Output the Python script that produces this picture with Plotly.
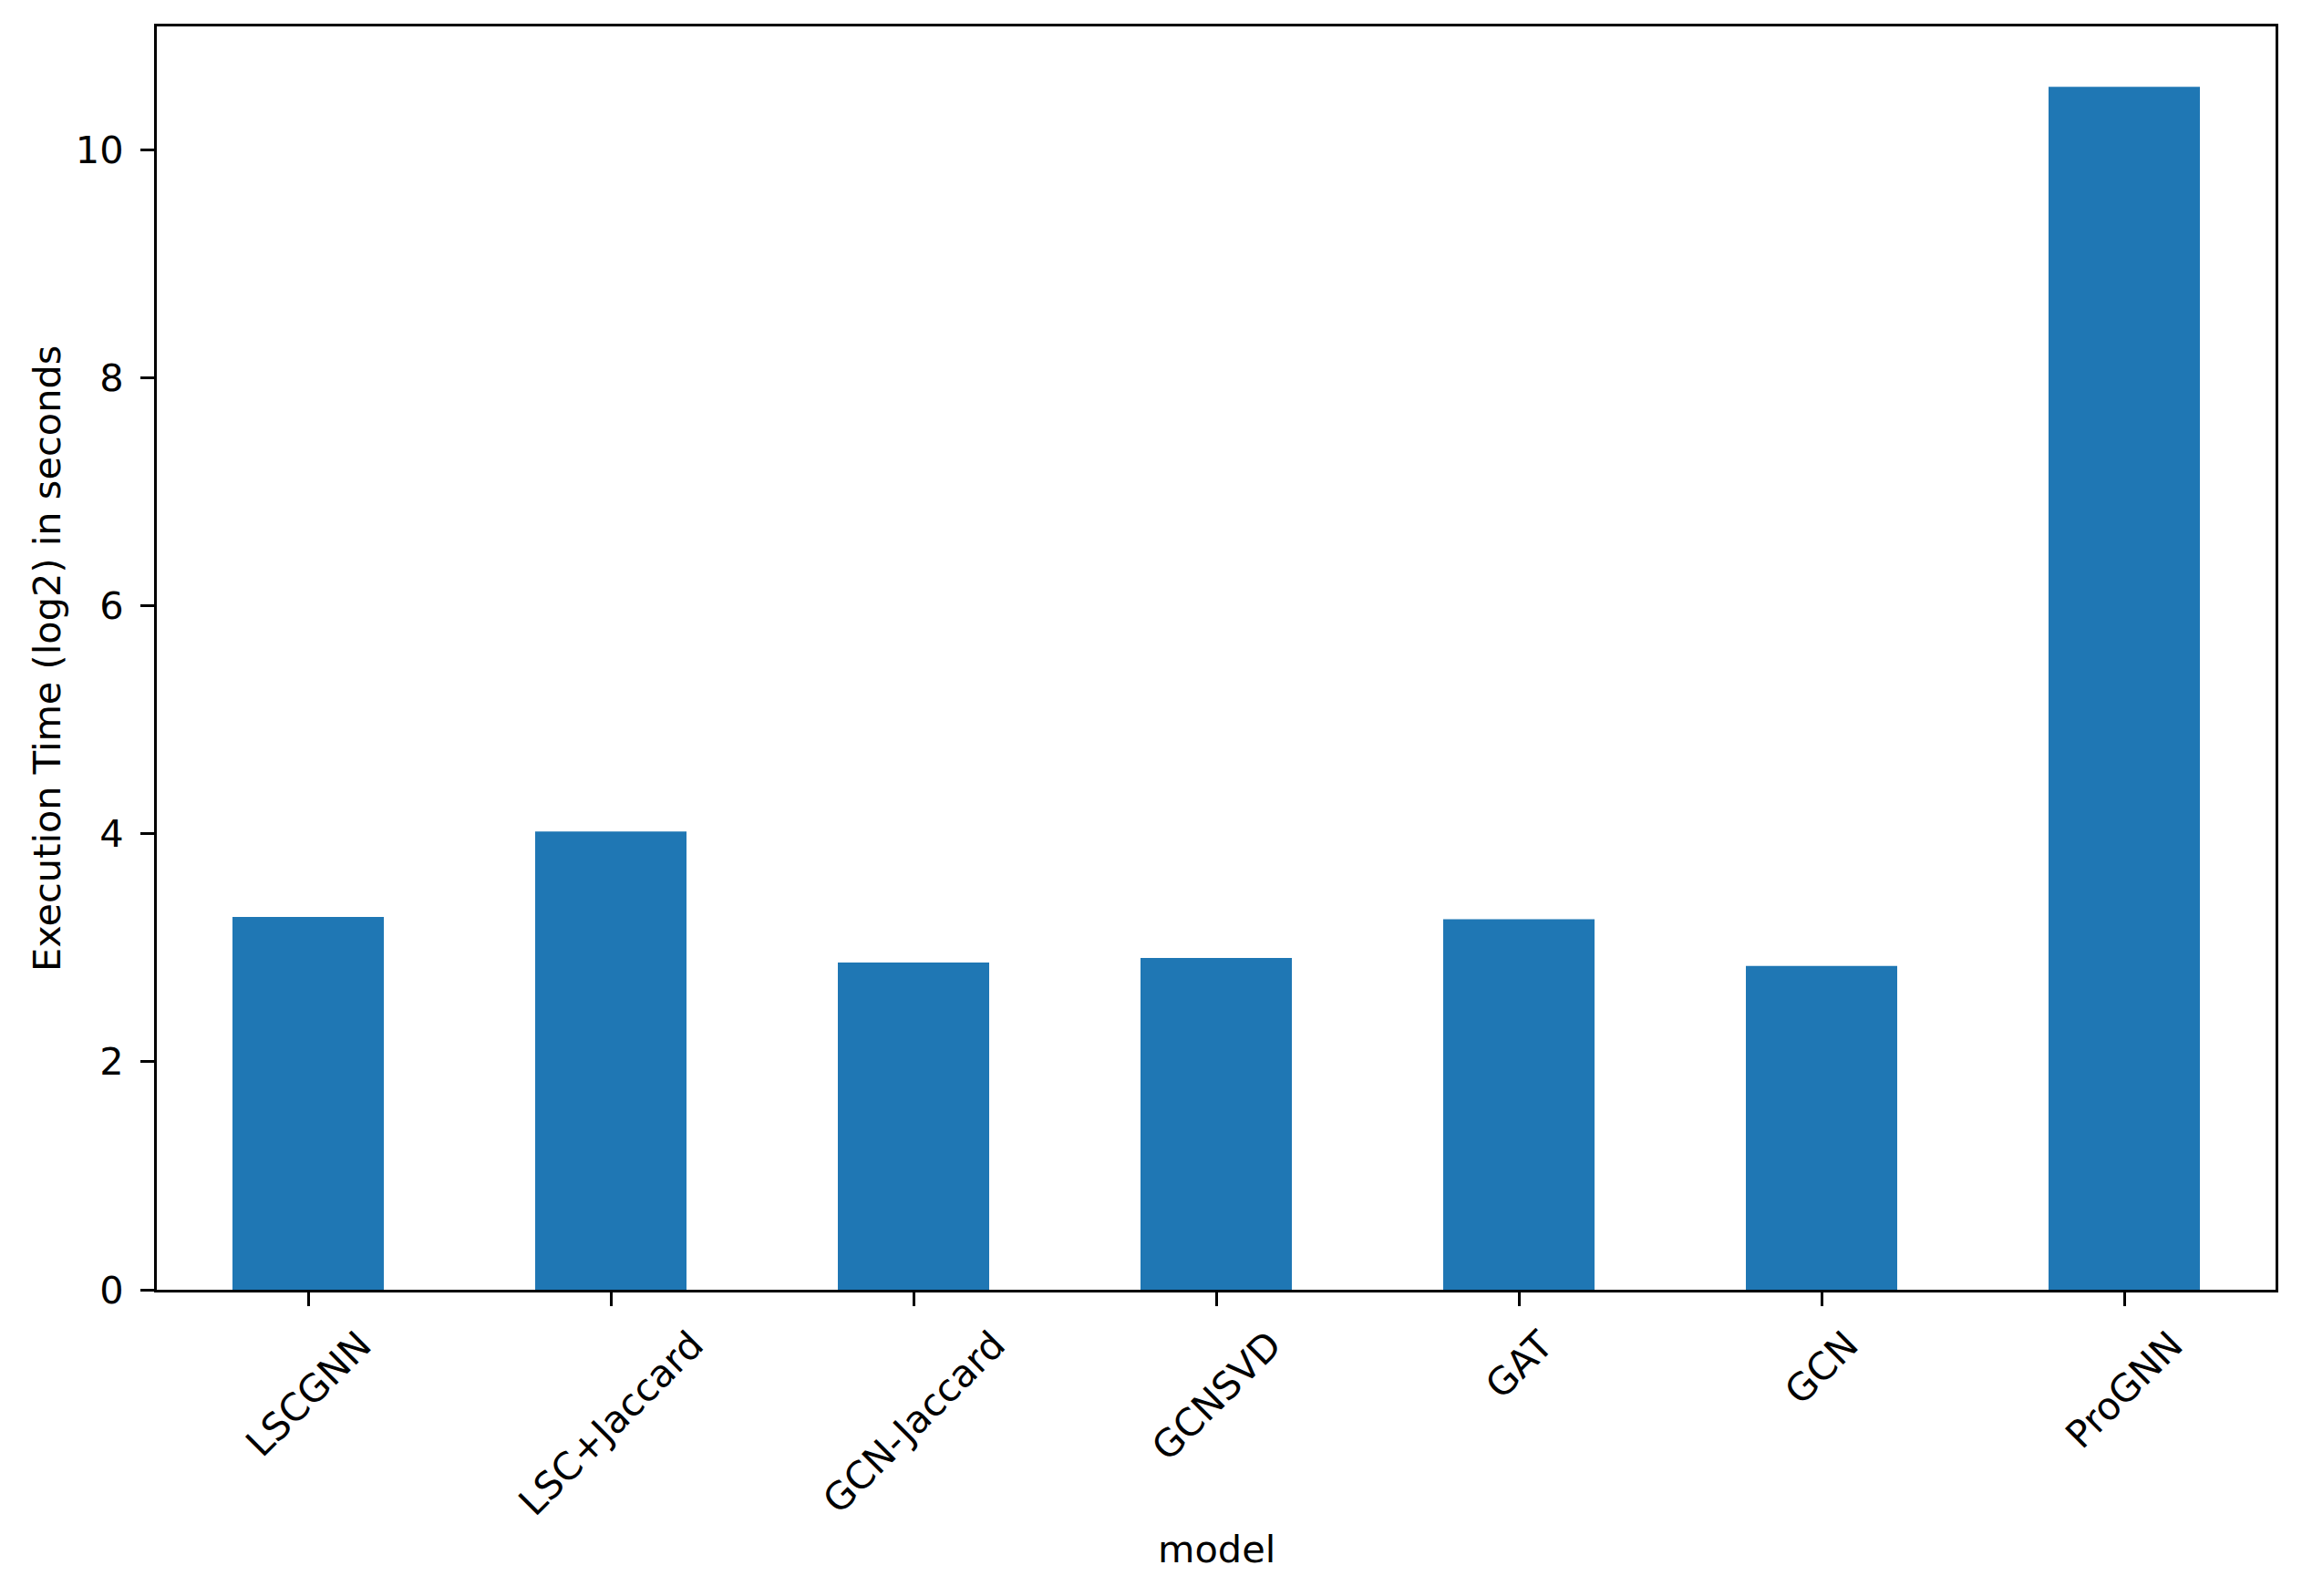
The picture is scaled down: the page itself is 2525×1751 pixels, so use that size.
import plotly.graph_objects as go

models = ["LSCGNN", "LSC+Jaccard", "GCN-Jaccard", "GCNSVD", "GAT", "GCN", "ProGNN"]
exec_time_log2 = [3.27, 4.02, 2.87, 2.91, 3.25, 2.84, 10.55]
y_ticks = [0, 2, 4, 6, 8, 10]

FONT = "DejaVu Sans"
FS = 41.5
BLUE = "#1f77b4"

fig = go.Figure(
    go.Bar(
        x=models,
        y=exec_time_log2,
        width=0.5,
        marker=dict(color=BLUE, line=dict(width=0)),
    )
)

# rotated tick labels centred on the ticks, like matplotlib rotation=45
for m in models:
    fig.add_annotation(
        x=m, y=0, xref="x", yref="paper",
        text=m, textangle=-45, showarrow=False,
        xanchor="center", yanchor="top", yshift=-33,
        font=dict(family=FONT, size=FS, color="black"),
    )

fig.add_annotation(
    x=0.5, y=0, xref="paper", yref="paper",
    text="model", showarrow=False,
    xanchor="center", yanchor="middle", yshift=-284,
    font=dict(family=FONT, size=FS, color="black"),
)
fig.add_annotation(
    x=0, y=0.5, xref="paper", yref="paper",
    text="Execution Time (log2) in seconds", textangle=-90, showarrow=False,
    xanchor="center", yanchor="middle", xshift=-121,
    font=dict(family=FONT, size=FS, color="black"),
)

# page body has an 8px margin, so the figure is shrunk by that amount
fig.update_layout(
    width=2517,
    height=1743,
    margin=dict(l=164, r=29, t=21, b=336, autoexpand=False),
    plot_bgcolor="white",
    paper_bgcolor="white",
    showlegend=False,
    font=dict(family=FONT, size=FS, color="black"),
)
fig.update_xaxes(
    type="category",
    range=[-0.5, 6.5],
    showticklabels=False,
    ticks="outside", ticklen=15, tickwidth=3.3, tickcolor="black",
    showline=True, linecolor="black", linewidth=3.3, mirror=True,
    showgrid=False, zeroline=False,
)
fig.update_yaxes(
    range=[0, 11.08],
    tickvals=y_ticks,
    ticks="outside", ticklen=15, tickwidth=3.3, tickcolor="black",
    ticklabelstandoff=10,
    showline=True, linecolor="black", linewidth=3.3, mirror=True,
    showgrid=False, zeroline=False,
    tickfont=dict(family=FONT, size=FS, color="black"),
)

fig.write_html("out.html")
